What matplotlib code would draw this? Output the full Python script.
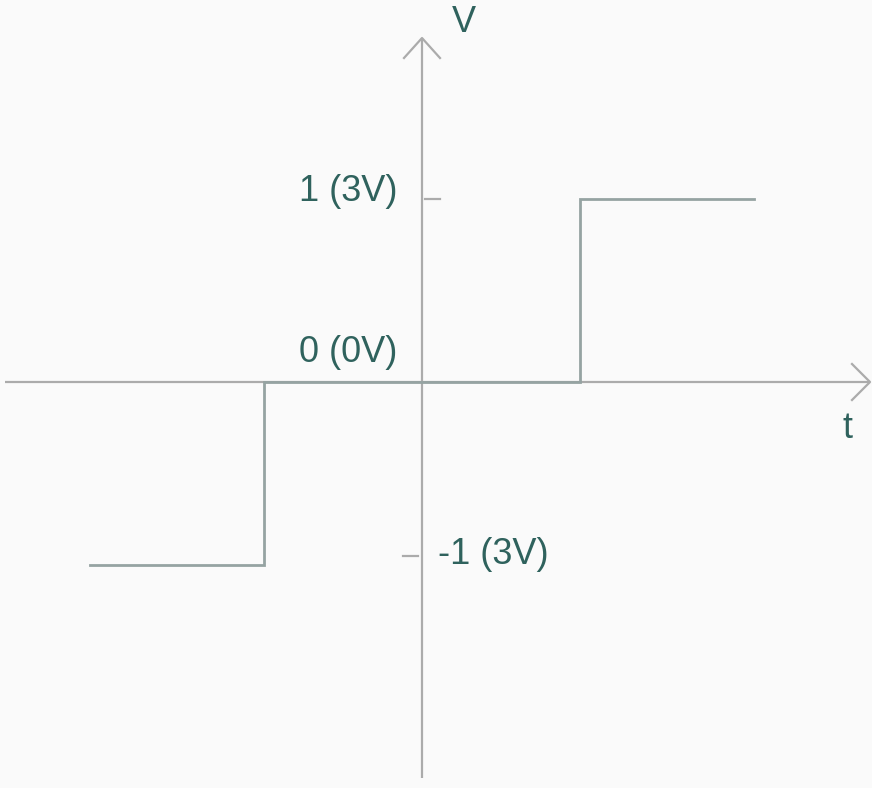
import matplotlib
matplotlib.use("Agg")
import matplotlib.pyplot as plt

# Data: square-wave like step signal
t_vals = [-2.1, -1.0, -1.0, 1.0, 1.0, 2.1]
v_vals = [-1.0, -1.0, 0.0, 0.0, 1.0, 1.0]
tick_vals = [1, -1]
tick_labels = ["1 (3V)", "-1 (3V)"]
zero_label = "0 (0V)"
x_label = "t"
y_label = "V"

W, H = 872, 788
ox, oy = 422, 382      # origin in pixels
sx, sy = 158.0, 183.0  # pixels per unit

fig = plt.figure(figsize=(W / 100, H / 100), dpi=100, facecolor="#fafafa")
ax = fig.add_axes([0, 0, 1, 1])
ax.set_facecolor("#fafafa")
ax.set_xlim(-ox / sx, (W - ox) / sx)
ax.set_ylim(-(H - oy) / sy, oy / sy)
ax.axis("off")

def px(x):
    return (x - ox) / sx

def py(y):
    return (oy - y) / sy

axis_col = "#ababab"
sig_col = "#95a3a2"
txt_col = "#2f625d"
font = "Liberation Sans"
fs = 26

# axes lines
ax.plot([px(5), px(870)], [0, 0], color=axis_col, lw=1.6, solid_capstyle="butt", zorder=2)
ax.plot([0, 0], [py(38), py(778)], color=axis_col, lw=1.6, solid_capstyle="butt", zorder=2)
# arrow heads (open chevrons)
ax.plot([px(852), px(870), px(852)], [py(364), py(382), py(400)], color=axis_col, lw=1.6, zorder=2)
ax.plot([px(404), px(422), px(440)], [py(58), py(38), py(58)], color=axis_col, lw=1.6, zorder=2)

# signal
ax.plot(t_vals, v_vals, color=sig_col, lw=2.0, zorder=3, solid_joinstyle="miter")

# ticks and labels
for v, lab in zip(tick_vals, tick_labels):
    if v > 0:
        ax.plot([px(425), px(440)], [v, v], color=axis_col, lw=1.6)
        ax.text(px(397), v + (200 - 192) / sy, lab, ha="right", va="center",
                fontsize=fs, color=txt_col, family=font)
    else:
        ax.plot([px(403), px(418)], [v - 9 / sy * -1, v - 9 / sy * -1], color=axis_col, lw=1.6)
        ax.text(px(438), v + (566 - 555) / sy, lab, ha="left", va="center",
                fontsize=fs, color=txt_col, family=font)

ax.text(px(397), py(352), zero_label, ha="right", va="center",
        fontsize=fs, color=txt_col, family=font)
ax.text(px(847), py(428), x_label, ha="center", va="center",
        fontsize=fs, color=txt_col, family=font)
ax.text(px(464), py(22), y_label, ha="center", va="center",
        fontsize=fs, color=txt_col, family=font)

fig.savefig("out.png", dpi=100, facecolor=fig.get_facecolor())
